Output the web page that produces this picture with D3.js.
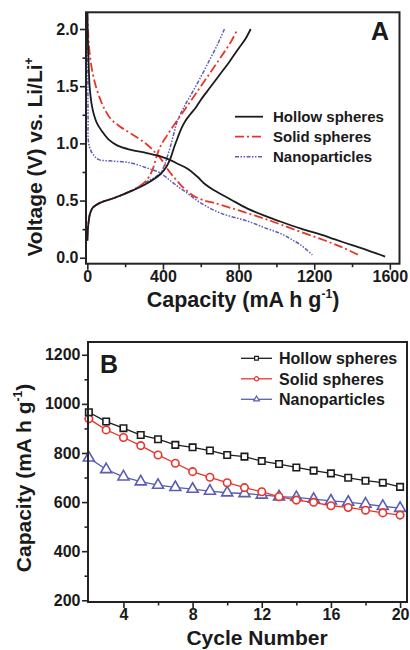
<!DOCTYPE html>
<html><head><meta charset="utf-8">
<script src="https://cdn.jsdelivr.net/npm/d3@7"></script>
<style>body{margin:0;background:#fff}svg{display:block}text{font-family:"Liberation Sans",Arial,sans-serif;font-weight:bold;fill:#1a1a1a}</style>
</head><body>
<script>
// ---------- Panel A data: [capacity (mA h g-1), voltage (V)] ----------
const hollowDischarge = [[0,2.15],[3,1.9],[7,1.7],[12,1.5],[22,1.35],[35,1.25],[50,1.18],[80,1.1],[115,1.03],[160,0.98],[227,0.945],[315,0.915],[390,0.885],[430,0.86],[480,0.82],[528,0.78],[581,0.71],[625,0.64],[670,0.59],[758,0.51],[847,0.43],[950,0.36],[1024,0.315],[1130,0.255],[1250,0.195],[1306,0.162],[1400,0.11],[1483,0.065],[1575,0.01]];
const hollowCharge = [[0,0.15],[3,0.25],[8,0.33],[15,0.39],[30,0.44],[67,0.48],[138,0.52],[227,0.58],[315,0.65],[386,0.73],[420,0.8],[442,0.88],[460,0.97],[478,1.05],[497,1.13],[520,1.2],[545,1.255],[572,1.31],[600,1.38],[650,1.49],[700,1.6],[750,1.71],[800,1.83],[835,1.91],[864,2.0]];
const solidDischarge = [[0,2.15],[5,1.95],[15,1.75],[30,1.6],[45,1.5],[65,1.4],[85,1.32],[121,1.22],[170,1.15],[227,1.09],[315,0.99],[365,0.91],[400,0.84],[422,0.78],[460,0.7],[492,0.64],[530,0.58],[563,0.54],[620,0.5],[670,0.48],[760,0.435],[847,0.39],[940,0.34],[1024,0.29],[1130,0.225],[1250,0.155],[1350,0.09],[1433,0.025]];
const solidCharge = [[0,0.15],[3,0.25],[8,0.33],[15,0.39],[30,0.44],[67,0.48],[138,0.52],[227,0.58],[280,0.63],[315,0.68],[345,0.77],[365,0.88],[385,0.97],[422,1.07],[475,1.2],[530,1.33],[580,1.45],[630,1.57],[680,1.69],[725,1.8],[760,1.89],[792,1.99]];
const nanoDischarge = [[0,2.15],[2,1.8],[3,1.5],[4,1.2],[5,1.03],[15,0.95],[32,0.9],[58,0.86],[138,0.845],[227,0.83],[315,0.785],[386,0.74],[457,0.65],[528,0.565],[599,0.48],[705,0.39],[847,0.32],[950,0.255],[1024,0.21],[1080,0.16],[1130,0.11],[1190,0.025]];
const nanoCharge = [[0,0.15],[3,0.25],[8,0.33],[15,0.39],[30,0.44],[67,0.48],[138,0.52],[227,0.58],[315,0.665],[386,0.74],[410,0.82],[424,0.89],[441,0.98],[458,1.09],[477,1.2],[512,1.32],[550,1.43],[600,1.58],[650,1.74],[690,1.87],[725,2.0]];
const seriesNames = ["Hollow spheres","Solid spheres","Nanoparticles"];
const seriesColors = ["#1c1c1c","#e8352b","#5a5db5"];
const xTicksA = [0,400,800,1200,1600];
const xMinorA = [200,600,1000,1400];
const yTicksA = [0,0.5,1.0,1.5,2.0];
const yMinorA = [0.25,0.75,1.25,1.75];

// ---------- Panel B data ----------
const cycles = [2,3,4,5,6,7,8,9,10,11,12,13,14,15,16,17,18,19,20];
const hollowCap = [966,928,901,873,856,833,823,810,792,785,767,755,741,728,717,699,687,679,662];
const solidCap  = [939,894,863,830,792,758,724,701,679,659,642,622,608,599,585,578,567,556,547];
const nanoCap   = [780,733,703,683,669,660,653,645,638,635,629,622,619,612,605,600,592,583,575];
const xTicksB = [4,8,12,16,20];
const xMinorB = [6,10,14,18];
const yTicksB = [200,400,600,800,1000,1200];
const yMinorB = [300,500,700,900,1100];

const svg = d3.select("body").append("svg").attr("width",410).attr("height",650);

function axes(g, x, y, xt, xm, yt, ym, fmtY, fs){
  const [x0,x1]=x.range(), [y0,y1]=y.range();
  const ax = g.append("g").attr("transform",`translate(0,${y0})`)
    .call(d3.axisBottom(x).tickValues(xt).tickSize(6).tickPadding(1).tickFormat(d3.format("d")));
  const axm = g.append("g").attr("transform",`translate(0,${y0})`)
    .call(d3.axisBottom(x).tickValues(xm).tickSize(3.5).tickFormat(""));
  const ay = g.append("g").attr("transform",`translate(${x0},0)`)
    .call(d3.axisLeft(y).tickValues(yt).tickSize(6).tickPadding(1.5).tickFormat(fmtY));
  const aym = g.append("g").attr("transform",`translate(${x0},0)`)
    .call(d3.axisLeft(y).tickValues(ym).tickSize(3.5).tickFormat(""));
  [ax,axm,ay,aym].forEach(a=>{a.select(".domain").remove();a.selectAll("line").attr("stroke","#222").attr("stroke-width",1.6);
    a.selectAll("text").attr("font-size",fs).attr("fill","#1a1a1a").attr("font-family","Liberation Sans, Arial, sans-serif").attr("font-weight","bold");});
  g.append("rect").attr("x",x0).attr("y",y1).attr("width",x1-x0).attr("height",y0-y1)
    .attr("fill","none").attr("stroke","#222").attr("stroke-width",2);
}

// ===== Panel A =====
const xA = d3.scaleLinear([-7,1651],[86,399.5]);
const yA = d3.scaleLinear([-0.052,2.146],[263.7,12.3]);
const gA = svg.append("g");
svg.append("clipPath").attr("id","clipA").append("rect").attr("x",86).attr("y",12.3).attr("width",313.5).attr("height",251.4);
const lineA = d3.line().x(d=>xA(d[0])).y(d=>yA(d[1])).curve(d3.curveCatmullRom.alpha(0.5));
const dashA = [null,"9,3,2,3","4,1.5,1.5,1.5,1.5,1.5"];
const widthA = [1.8,1.8,1.5];
const curvesA = [[hollowDischarge,hollowCharge],[solidDischarge,solidCharge],[nanoDischarge,nanoCharge]];
const pc = gA.append("g").attr("clip-path","url(#clipA)");
[2,1,0].forEach(i=>{
  curvesA[i].forEach(c=>{
    pc.append("path").attr("d",lineA(c)).attr("fill","none").attr("stroke",seriesColors[i])
      .attr("stroke-width",widthA[i]).attr("stroke-dasharray",dashA[i]);
  });
});
axes(gA,xA,yA,xTicksA,xMinorA,yTicksA,yMinorA,d3.format(".1f"),16);
const legA = gA.append("g");
seriesNames.forEach((n,i)=>{
  const yy = 116.7 + i*20;
  legA.append("line").attr("x1",235).attr("x2",263).attr("y1",yy).attr("y2",yy)
    .attr("stroke",seriesColors[i]).attr("stroke-width",widthA[i]).attr("stroke-dasharray",dashA[i]);
  legA.append("text").attr("x",273).attr("y",yy).attr("dy","0.36em").attr("font-size",15).text(n);
});
gA.append("text").attr("x",371).attr("y",40).attr("font-size",25).text("A");
const ytA = gA.append("text").attr("transform","translate(42,157) rotate(-90)").attr("text-anchor","middle").attr("font-size",21);
ytA.append("tspan").text("Voltage (V) vs. Li/Li");
ytA.append("tspan").attr("font-size",12).attr("dy",-9).text("+");
const xtA = gA.append("text").attr("x",243).attr("y",307).attr("text-anchor","middle").attr("font-size",21.5);
xtA.append("tspan").text("Capacity (mA h g");
xtA.append("tspan").attr("font-size",12).attr("dy",-9).text("-1");
xtA.append("tspan").attr("dy",9).text(")");

// ===== Panel B =====
const xB = d3.scaleLinear([1.95,20.4],[88,407]);
const yB = d3.scaleLinear([193,1252],[602,342]);
const gB = svg.append("g");
const valuesB = [hollowCap,solidCap,nanoCap];
const lineB = d3.line().x(d=>xB(d[0])).y(d=>yB(d[1]));
const symB = [d3.symbolSquare,d3.symbolCircle,d3.symbolTriangle];
const sizeB = [42,44,52];
[2,1,0].forEach(i=>{
  const pts = cycles.map((c,j)=>[c,valuesB[i][j]]);
  gB.append("path").attr("d",lineB(pts)).attr("fill","none").attr("stroke",seriesColors[i]).attr("stroke-width",1.3);
  gB.selectAll(null).data(pts).enter().append("path")
    .attr("transform",d=>`translate(${xB(d[0])},${yB(d[1])})`)
    .attr("d",d3.symbol(symB[i],sizeB[i])).attr("fill","#fff").attr("stroke",seriesColors[i]).attr("stroke-width",1.6);
});
axes(gB,xB,yB,xTicksB,xMinorB,yTicksB,yMinorB,d3.format("d"),16);
const legB = gB.append("g");
seriesNames.forEach((n,i)=>{
  const yy = 358.3 + i*20.5;
  legB.append("line").attr("x1",241).attr("x2",272).attr("y1",yy).attr("y2",yy)
    .attr("stroke",seriesColors[i]).attr("stroke-width",1.3);
  legB.append("path").attr("transform",`translate(256.5,${yy})`).attr("d",d3.symbol(symB[i],14))
    .attr("fill","#fff").attr("stroke",seriesColors[i]).attr("stroke-width",1.2);
  legB.append("text").attr("x",279).attr("y",yy).attr("dy","0.36em").attr("font-size",16).text(n);
});
gB.append("text").attr("x",100).attr("y",373).attr("font-size",25).text("B");
const ytB = gB.append("text").attr("transform","translate(31,478) rotate(-90)").attr("text-anchor","middle").attr("font-size",21);
ytB.append("tspan").text("Capacity (mA h g");
ytB.append("tspan").attr("font-size",12).attr("dy",-9).text("-1");
ytB.append("tspan").attr("dy",9).text(")");
gB.append("text").attr("x",257).attr("y",645).attr("text-anchor","middle").attr("font-size",21).text("Cycle Number");
</script>
</body></html>
